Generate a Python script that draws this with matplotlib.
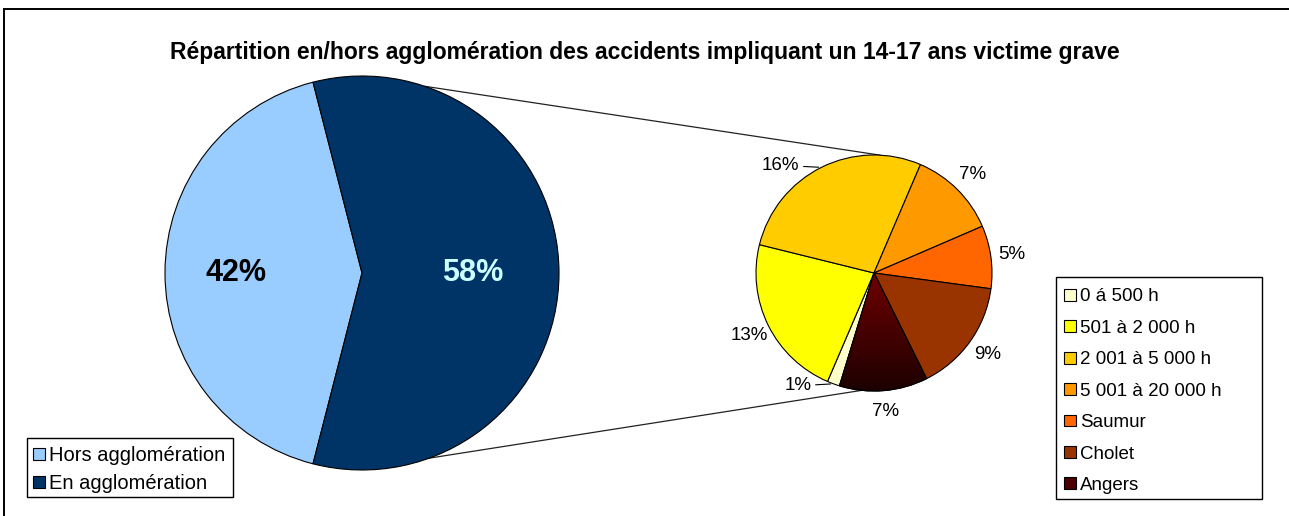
import numpy as np
import matplotlib
matplotlib.use("Agg")
import matplotlib.pyplot as plt
from matplotlib.patches import Wedge, Rectangle
from matplotlib.colors import LinearSegmentedColormap

plt.rcParams['font.family'] = ['Liberation Sans', 'DejaVu Sans']

# ── Data ───────────────────────────────────────────────────────────────────
TITLE = "Répartition en/hors agglomération des accidents impliquant un 14-17 ans victime grave"

main_labels = ['Hors agglomération', 'En agglomération']
main_values = [42, 58]
main_colors = ['#99CCFF', '#003366']
main_text_colors = ['black', '#CCFFFF']

sub_labels = ['0 á 500 h', '501 à 2 000 h', '2 001 à 5 000 h', '5 001 à 20 000 h',
              'Saumur', 'Cholet', 'Angers']
sub_values = [1, 13, 16, 7, 5, 9, 7]          # % of all accidents
sub_colors = ['#FFFFCC', '#FFFF00', '#FFCC00', '#FF9900', '#FF6600', '#993300', '#4A0000']

# ── Layout (pixels, y up) ─────────────────────────────────────────────────
W, H = 1289, 516
BIG_C, BIG_R = (362, H - 273), 197
SMALL_C, SMALL_R = (874, H - 273), 118

fig = plt.figure(figsize=(W / 100, H / 100), dpi=100)
ax = fig.add_axes([0, 0, 1, 1])

# outer chart border (only top/left visible)
ax.add_patch(Rectangle((4, -20), W + 40, H - 9 + 20, fill=False, ec='black', lw=1.4, zorder=0))

fig.text(0.5 + 0.5 / W * 0, 1 - 52 / H, TITLE, ha='center', va='center',
         fontsize=16.5, fontweight='bold')

# big pie: "En agglomération" centred on the right
start_big = 180 - 360 * main_values[0] / sum(main_values) / 2
big_wedges, _ = ax.pie(main_values, colors=main_colors, startangle=start_big,
                       center=BIG_C, radius=BIG_R,
                       wedgeprops=dict(edgecolor='black', linewidth=0.8))
for w, v, c, d in zip(big_wedges, main_values, main_text_colors, [0.64, 0.56]):
    a = np.deg2rad((w.theta1 + w.theta2) / 2)
    ax.text(BIG_C[0] + d * BIG_R * np.cos(a), BIG_C[1] + d * BIG_R * np.sin(a),
            f"{v}%", ha='center', va='center', fontsize=22, fontweight='bold', color=c)

# small pie: breakdown of "En agglomération"
sub_wedges, _ = ax.pie(sub_values, colors=sub_colors, startangle=253, counterclock=False,
                       center=SMALL_C, radius=SMALL_R,
                       wedgeprops=dict(edgecolor='black', linewidth=0.8))

# gradient fill on the Angers slice
aw = sub_wedges[-1]
cmap = LinearSegmentedColormap.from_list('ang', ['#1C0000', '#700000'])
grad = np.linspace(0, 1, 256).reshape(-1, 1)
im = ax.imshow(grad, extent=[SMALL_C[0] - SMALL_R, SMALL_C[0] + SMALL_R,
                             SMALL_C[1] - SMALL_R, SMALL_C[1]],
               origin='lower', cmap=cmap, aspect='auto', zorder=aw.get_zorder() + 0.1)
im.set_clip_path(aw)
ax.add_patch(Wedge(SMALL_C, SMALL_R, aw.theta1, aw.theta2, fc='none', ec='black',
                   lw=0.8, zorder=aw.get_zorder() + 0.2))

# percentage labels on the small pie
leader = {0: -2, 2: 2}   # labels pulled aside with a leader line
for i, (w, v) in enumerate(zip(sub_wedges, sub_values)):
    a = np.deg2rad((w.theta1 + w.theta2) / 2)
    ex, ey = SMALL_C[0] + SMALL_R * np.cos(a), SMALL_C[1] + SMALL_R * np.sin(a)
    if i in leader:
        ax.annotate(f"{v}%", xy=(ex, ey), xytext=(ex - 22, ey + leader[i]),
                    ha='right', va='center', fontsize=13.5,
                    arrowprops=dict(arrowstyle='-', color='black', lw=0.8,
                                    shrinkA=1, shrinkB=2))
    else:
        d = SMALL_R * 1.18
        ax.text(SMALL_C[0] + d * np.cos(a), SMALL_C[1] + d * np.sin(a), f"{v}%",
                ha='center', va='center', fontsize=13.5)

# connector lines big pie -> small pie
for ab, as_ in [(71.4, 87), (-70, -96)]:
    p0 = (BIG_C[0] + BIG_R * np.cos(np.deg2rad(ab)), BIG_C[1] + BIG_R * np.sin(np.deg2rad(ab)))
    p1 = (SMALL_C[0] + SMALL_R * np.cos(np.deg2rad(as_)), SMALL_C[1] + SMALL_R * np.sin(np.deg2rad(as_)))
    ax.plot([p0[0], p1[0]], [p0[1], p1[1]], color='#222222', lw=0.9, zorder=0.5)

# legends with their boxes
ax.add_patch(Rectangle((27, H - 497), 206, 59, fill=False, ec='black', lw=1.0, zorder=5))
leg1 = ax.legend(big_wedges, main_labels, loc='upper left', bbox_to_anchor=(23, H - 436),
                 bbox_transform=ax.transData, frameon=False, fontsize=14.5, borderpad=0,
                 handlelength=0.6, handleheight=0.6, handletextpad=0.2, labelspacing=0.45)
ax.add_artist(leg1)

ax.add_patch(Rectangle((1056, H - 499), 206, 222, fill=False, ec='black', lw=1.0, zorder=5))
ax.legend(sub_wedges, sub_labels, loc='upper left', bbox_to_anchor=(1055, H - 279),
          bbox_transform=ax.transData, frameon=False, fontsize=13.5, borderpad=0,
          handlelength=0.6, handleheight=0.6, handletextpad=0.25, labelspacing=0.77)

ax.set_xlim(0, W)
ax.set_ylim(0, H)
ax.set_aspect('auto')
ax.axis('off')

fig.savefig('out.png', dpi=100)
